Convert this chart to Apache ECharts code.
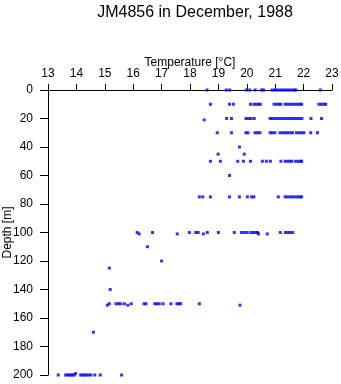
<!DOCTYPE html>
<html>
<head>
<meta charset="utf-8">
<style>
  html, body { margin: 0; padding: 0; background: #fff; }
  #chart { width: 341px; height: 384px; }
</style>
<script src="https://cdn.jsdelivr.net/npm/echarts@6/dist/echarts.min.js"></script>
</head>
<body>
<div id="chart"></div>
<script>
// CTD cast JM4856, December 1988: temperature readings by depth.
const depth0   = [18.60, 19.28, 19.40, 19.98, 20.10, 20.30, 20.52, 20.59, 20.89, 20.98, 21.06, 21.15, 21.24, 21.33, 21.42, 21.51, 21.59, 21.68, 21.73, 22.59];
const depth10  = [18.72, 19.39, 19.53, 20.13, 20.25, 20.33, 20.41, 20.48, 20.96, 21.05, 21.13, 21.20, 21.35, 21.43, 21.52, 21.61, 21.70, 21.79, 21.87, 21.93, 22.54, 22.63, 22.72, 22.78];
const depth20  = [19.29, 19.46, 19.97, 20.06, 20.15, 20.26, 20.82, 20.90, 20.99, 21.08, 21.17, 21.26, 21.35, 21.43, 21.52, 21.61, 21.69, 21.77, 21.86, 21.94, 22.26, 22.63];
const depth21  = [18.50];
const depth30  = [18.96, 19.46, 19.97, 20.04, 20.29, 20.38, 20.46, 20.82, 20.90, 20.99, 21.17, 21.26, 21.35, 21.43, 21.52, 21.61, 21.75, 21.84, 21.93, 22.01, 22.25, 22.49];
const depth40  = [19.74];
const depth45  = [18.99, 19.91];
const depth50  = [18.72, 19.07, 19.68, 19.88, 20.13, 20.55, 20.69, 20.83, 21.20, 21.35, 21.43, 21.52, 21.58, 21.71, 21.80, 21.89, 21.93];
const depth60  = [19.39];
const depth75  = [18.33, 18.45, 18.72, 19.39, 19.74, 20.02, 20.17, 20.25, 21.11, 21.35, 21.43, 21.52, 21.61, 21.70, 21.79, 21.87, 21.93];
const depth100 = [16.14, 16.68, 17.98, 18.20, 18.29, 18.61, 19.00, 19.56, 19.81, 19.91, 20.02, 20.15, 20.23, 20.31, 20.38, 21.18, 21.36, 21.45, 21.53, 21.62];
const depth101 = [16.21, 17.55, 18.47, 20.41, 20.72];
const depth110 = [16.50];
const depth120 = [17.00];
const depth125 = [15.16];
const depth140 = [15.19];
const depth150 = [15.16, 15.39, 15.48, 15.56, 15.69, 15.93, 16.38, 16.45, 16.76, 16.84, 16.92, 17.05, 17.33, 17.54, 17.61, 17.67, 18.33];
const depth151 = [15.09, 15.81, 19.76];
const depth170 = [14.60];
const depth200 = [13.36, 13.62, 13.69, 13.75, 13.81, 13.87, 13.92, 14.15, 14.22, 14.29, 14.36, 14.44, 14.51, 14.65, 14.84, 15.59];
const depth199 = [13.97];

const rows = [
  [0, depth0], [10, depth10], [20, depth20], [21, depth21], [30, depth30],
  [40, depth40], [45, depth45], [50, depth50], [60, depth60], [75, depth75],
  [100, depth100], [101, depth101], [110, depth110], [120, depth120],
  [125, depth125], [140, depth140], [150, depth150], [151, depth151],
  [170, depth170], [199, depth199], [200, depth200]
];

const tempTicks = [13, 14, 15, 16, 17, 18, 19, 20, 21, 22, 23];
const depthTicks = [0, 20, 40, 60, 80, 100, 120, 140, 160, 180, 200];

const points = [];
rows.forEach(([d, temps]) => temps.forEach(t => points.push([t, d])));

const FONT = 'Liberation Sans';
const axisLine = { show: true, onZero: false, lineStyle: { color: '#000', width: 1 } };

const chart = echarts.init(document.getElementById('chart'), null, { renderer: 'canvas' });
chart.setOption({
  animation: false,
  backgroundColor: '#fff',
  title: {
    text: 'JM4856 in December, 1988',
    left: 190,
    top: 0,
    textAlign: 'center',
    textStyle: { fontFamily: FONT, fontSize: 16, fontWeight: 'normal', color: '#000' }
  },
  grid: { left: 48, right: 9, top: 90, bottom: 9, outerBoundsMode: 'none', containLabel: false },
  xAxis: {
    type: 'value',
    position: 'top',
    min: tempTicks[0],
    max: tempTicks[tempTicks.length - 1],
    interval: 1,
    name: 'Temperature [°C]',
    nameLocation: 'middle',
    nameGap: 21,
    nameMoveOverlap: false,
    nameTextStyle: { fontFamily: FONT, fontSize: 12, color: '#000' },
    axisLine: axisLine,
    axisTick: { show: true, length: 6, lineStyle: { color: '#000' } },
    axisLabel: { fontFamily: FONT, fontSize: 12, color: '#000', margin: 10 },
    splitLine: { show: false }
  },
  yAxis: {
    type: 'value',
    inverse: true,
    min: depthTicks[0],
    max: depthTicks[depthTicks.length - 1],
    interval: 20,
    name: 'Depth [m]',
    nameLocation: 'middle',
    nameGap: 34,
    nameMoveOverlap: false,
    nameTextStyle: { fontFamily: FONT, fontSize: 12, color: '#000' },
    axisLine: axisLine,
    axisTick: { show: true, length: 8, lineStyle: { color: '#000' } },
    axisLabel: { fontFamily: FONT, fontSize: 12, color: '#000', margin: 15 },
    splitLine: { show: false }
  },
  series: [{
    type: 'scatter',
    data: points,
    symbol: 'rect',
    symbolSize: [3, 3],
    itemStyle: { color: '#0000ff' },
    emphasis: { disabled: true }
  }]
});
</script>
</body>
</html>
